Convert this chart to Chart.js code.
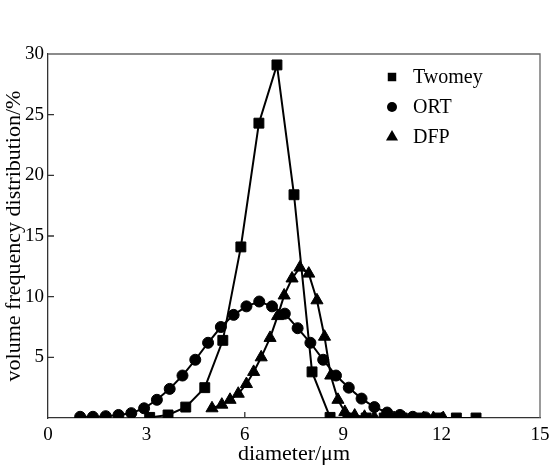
<!DOCTYPE html>
<html>
<head>
<meta charset="utf-8">
<script src="https://cdn.jsdelivr.net/npm/chart.js@4.4.0/dist/chart.umd.min.js"></script>
<style>
	body { margin: 0; background: #fff; }
</style>
</head>
<body>
<canvas id="grafico" width="553" height="471"></canvas>
<script>
// diametros (um) y frecuencias (%)
var twomeyX = [3.1, 3.66, 4.2, 4.78, 5.33, 5.88, 6.43, 6.98, 7.5, 8.05, 8.6, 9.15, 9.7, 10.25, 10.8, 11.35, 11.9, 12.45, 13.05];
var twomeyY = [0.05, 0.25, 0.9, 2.5, 6.4, 14.1, 24.3, 29.1, 18.4, 3.8, 0.05, 0, 0, 0, 0, 0, 0, 0, 0];

var ortX = [0.98, 1.37, 1.76, 2.15, 2.54, 2.93, 3.32, 3.71, 4.1, 4.49, 4.88, 5.27, 5.66, 6.05, 6.44, 6.83, 7.22, 7.61, 8.0, 8.39, 8.78, 9.17, 9.56, 9.95, 10.34, 10.73, 11.12, 11.51];
var ortY = [0.1, 0.1, 0.15, 0.25, 0.4, 0.8, 1.5, 2.4, 3.5, 4.8, 6.2, 7.5, 8.5, 9.2, 9.6, 9.2, 8.6, 7.4, 6.2, 4.8, 3.5, 2.5, 1.6, 0.9, 0.45, 0.25, 0.1, 0.05];

var dfpX = [5.0, 5.3, 5.55, 5.8, 6.05, 6.27, 6.5, 6.77, 7.0, 7.2, 7.44, 7.68, 7.95, 8.2, 8.43, 8.62, 8.84, 9.05, 9.35, 9.65, 9.95, 10.25, 10.55, 10.85, 11.15, 11.45, 11.75, 12.05];
var dfpY = [0.8, 1.1, 1.5, 2.0, 2.8, 3.8, 5.0, 6.6, 8.4, 10.1, 11.5, 12.4, 11.9, 9.7, 6.7, 3.5, 1.5, 0.5, 0.2, 0.1, 0.05, 0, 0, 0, 0, 0, 0, 0];

var xTicks = [0, 3, 6, 9, 12, 15];
var yTicks = [0, 5, 10, 15, 20, 25, 30];

var serie = function (xs, ys) {
	return xs.map(function (x, i) { return { x: x, y: ys[i] }; });
};

var fuente = "'Liberation Serif', 'Times New Roman', serif";

// marco superior/derecho y marcas hacia dentro
var marco = {
	id: "marco",
	beforeDatasetsDraw: function (chart) {
		var c = chart.ctx, a = chart.chartArea;
		var sx = chart.scales.x, sy = chart.scales.y;
		c.save();
		c.strokeStyle = "#666";
		c.lineWidth = 1.3;
		c.beginPath();
		c.moveTo(a.left, a.top);
		c.lineTo(a.right, a.top);
		c.lineTo(a.right, a.bottom);
		c.stroke();
		c.strokeStyle = "#333";
		c.beginPath();
		for (v of xTicks.slice(1, -1)) {
			var px = sx.getPixelForValue(v);
			c.moveTo(px, a.bottom);
			c.lineTo(px, a.bottom - 6);
		}
		for (v of yTicks.slice(1, -1)) {
			var py = sy.getPixelForValue(v);
			c.moveTo(a.left, py);
			c.lineTo(a.left + 6, py);
		}
		c.stroke();
		c.restore();
	}
};

// leyenda arriba a la derecha
var leyenda = {
	id: "leyenda",
	afterDraw: function (chart) {
		var c = chart.ctx;
		var radios = [6, 5, 7];
		c.save();
		c.font = "20px " + fuente;
		c.textBaseline = "middle";
		chart.data.datasets.forEach(function (ds, i) {
			var y = 77 + i * 30;
			c.fillStyle = "#000";
			Chart.helpers.drawPoint(c, { pointStyle: ds.pointStyle, radius: radios[i], rotation: 0, borderWidth: 0 }, 392, y);
			c.fillStyle = "#000";
			c.fillText(ds.label, 413, y + 1);
		});
		c.restore();
	}
};

var estilo = function (label, datos, forma, radio) {
	return {
		label: label,
		data: datos,
		showLine: true,
		borderColor: "#000",
		borderWidth: 2,
		backgroundColor: "#000",
		pointStyle: forma,
		pointRadius: radio,
		pointBackgroundColor: "#000",
		pointBorderColor: "#000",
		pointBorderWidth: 1,
		tension: 0
	};
};

new Chart(document.getElementById("grafico").getContext("2d"), {
	type: "scatter",
	data: {
		datasets: [
			estilo("Twomey", serie(twomeyX, twomeyY), "rect", 7),
			estilo("ORT", serie(ortX, ortY), "circle", 5.5),
			estilo("DFP", serie(dfpX, dfpY), "triangle", 7)
		]
	},
	options: {
		responsive: false,
		animation: false,
		devicePixelRatio: 1,
		layout: { padding: { top: 54, right: 13, left: 0, bottom: 0 } },
		plugins: {
			legend: { display: false },
			tooltip: { enabled: false }
		},
		scales: {
			x: {
				type: "linear",
				min: 0,
				max: 15,
				afterFit: function (s) { s.height = 53; s.paddingRight = 0; s.paddingLeft = 0; },
				afterBuildTicks: function (s) { s.ticks = xTicks.map(function (v) { return { value: v }; }); },
				grid: { drawOnChartArea: false, drawTicks: false },
				border: { color: "#333", width: 1.3 },
				ticks: { color: "#000", padding: 6, font: { family: fuente, size: 19 }, maxRotation: 0 },
				title: { display: true, text: "diameter/\u03bcm", color: "#000", font: { family: fuente, size: 22 }, padding: { top: 0, bottom: 4 } }
			},
			y: {
				min: 0,
				max: 30,
				afterFit: function (s) { s.width = 48; },
				afterBuildTicks: function (s) { s.ticks = yTicks.map(function (v) { return { value: v }; }); },
				grid: { drawOnChartArea: false, drawTicks: false },
				border: { color: "#333", width: 1.3 },
				ticks: {
					color: "#000",
					padding: 4,
					font: { family: fuente, size: 19 },
					callback: function (v) { return v === 0 ? "" : v; }
				},
				title: { display: true, text: "volume frequency distribution/%", color: "#000", font: { family: fuente, size: 22 }, padding: { top: 1, bottom: 0 } }
			}
		}
	},
	plugins: [marco, leyenda]
});
</script>
</body>
</html>
